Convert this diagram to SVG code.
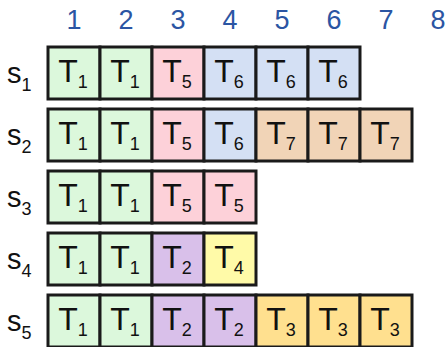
<svg xmlns="http://www.w3.org/2000/svg" width="447" height="347" viewBox="0 0 447 347">
<style>
rect{stroke:#1a1a1a;stroke-width:3}
.g{fill:#dcf8dc}.p{fill:#fdd1d9}.b{fill:#d4e0f4}.o{fill:#f1d4b7}.v{fill:#d9c0ea}.y{fill:#fffaa8}.a{fill:#ffe08f}
text{font-family:"Liberation Sans",Arial,sans-serif;fill:#111}
.t{font-size:32px;text-anchor:middle}
.sub{font-size:18px}
.hd{font-size:27px;fill:#2b55a3;text-anchor:middle}
.s{font-size:29px}
.ss{font-size:18px}
</style>
<g id="header">
<text class="hd" x="74" y="29">1</text>
<text class="hd" x="126" y="29">2</text>
<text class="hd" x="178" y="29">3</text>
<text class="hd" x="230" y="29">4</text>
<text class="hd" x="282" y="29">5</text>
<text class="hd" x="334" y="29">6</text>
<text class="hd" x="386" y="29">7</text>
<text class="hd" x="438" y="29">8</text>
</g>
<g id="labels">
<text class="s" x="7" y="83">s<tspan class="ss" dy="8">1</tspan></text>
<text class="s" x="7" y="145">s<tspan class="ss" dy="8">2</tspan></text>
<text class="s" x="7" y="207">s<tspan class="ss" dy="8">3</tspan></text>
<text class="s" x="7" y="269">s<tspan class="ss" dy="8">4</tspan></text>
<text class="s" x="7" y="331">s<tspan class="ss" dy="8">5</tspan></text>
</g>
<g id="row1">
<g id="r1c1"><rect class="g" x="48" y="47" width="52" height="52"/><text class="t" x="73" y="82">T<tspan class="sub" dy="6">1</tspan></text></g>
<g id="r1c2"><rect class="g" x="100" y="47" width="52" height="52"/><text class="t" x="125" y="82">T<tspan class="sub" dy="6">1</tspan></text></g>
<g id="r1c3"><rect class="p" x="152" y="47" width="52" height="52"/><text class="t" x="177" y="82">T<tspan class="sub" dy="6">5</tspan></text></g>
<g id="r1c4"><rect class="b" x="204" y="47" width="52" height="52"/><text class="t" x="229" y="82">T<tspan class="sub" dy="6">6</tspan></text></g>
<g id="r1c5"><rect class="b" x="256" y="47" width="52" height="52"/><text class="t" x="281" y="82">T<tspan class="sub" dy="6">6</tspan></text></g>
<g id="r1c6"><rect class="b" x="308" y="47" width="52" height="52"/><text class="t" x="333" y="82">T<tspan class="sub" dy="6">6</tspan></text></g>
</g>
<g id="row2">
<g id="r2c1"><rect class="g" x="48" y="109" width="52" height="52"/><text class="t" x="73" y="144">T<tspan class="sub" dy="6">1</tspan></text></g>
<g id="r2c2"><rect class="g" x="100" y="109" width="52" height="52"/><text class="t" x="125" y="144">T<tspan class="sub" dy="6">1</tspan></text></g>
<g id="r2c3"><rect class="p" x="152" y="109" width="52" height="52"/><text class="t" x="177" y="144">T<tspan class="sub" dy="6">5</tspan></text></g>
<g id="r2c4"><rect class="b" x="204" y="109" width="52" height="52"/><text class="t" x="229" y="144">T<tspan class="sub" dy="6">6</tspan></text></g>
<g id="r2c5"><rect class="o" x="256" y="109" width="52" height="52"/><text class="t" x="281" y="144">T<tspan class="sub" dy="6">7</tspan></text></g>
<g id="r2c6"><rect class="o" x="308" y="109" width="52" height="52"/><text class="t" x="333" y="144">T<tspan class="sub" dy="6">7</tspan></text></g>
<g id="r2c7"><rect class="o" x="360" y="109" width="52" height="52"/><text class="t" x="385" y="144">T<tspan class="sub" dy="6">7</tspan></text></g>
</g>
<g id="row3">
<g id="r3c1"><rect class="g" x="48" y="171" width="52" height="52"/><text class="t" x="73" y="206">T<tspan class="sub" dy="6">1</tspan></text></g>
<g id="r3c2"><rect class="g" x="100" y="171" width="52" height="52"/><text class="t" x="125" y="206">T<tspan class="sub" dy="6">1</tspan></text></g>
<g id="r3c3"><rect class="p" x="152" y="171" width="52" height="52"/><text class="t" x="177" y="206">T<tspan class="sub" dy="6">5</tspan></text></g>
<g id="r3c4"><rect class="p" x="204" y="171" width="52" height="52"/><text class="t" x="229" y="206">T<tspan class="sub" dy="6">5</tspan></text></g>
</g>
<g id="row4">
<g id="r4c1"><rect class="g" x="48" y="233" width="52" height="52"/><text class="t" x="73" y="268">T<tspan class="sub" dy="6">1</tspan></text></g>
<g id="r4c2"><rect class="g" x="100" y="233" width="52" height="52"/><text class="t" x="125" y="268">T<tspan class="sub" dy="6">1</tspan></text></g>
<g id="r4c3"><rect class="v" x="152" y="233" width="52" height="52"/><text class="t" x="177" y="268">T<tspan class="sub" dy="6">2</tspan></text></g>
<g id="r4c4"><rect class="y" x="204" y="233" width="52" height="52"/><text class="t" x="229" y="268">T<tspan class="sub" dy="6">4</tspan></text></g>
</g>
<g id="row5">
<g id="r5c1"><rect class="g" x="48" y="295" width="52" height="52"/><text class="t" x="73" y="330">T<tspan class="sub" dy="6">1</tspan></text></g>
<g id="r5c2"><rect class="g" x="100" y="295" width="52" height="52"/><text class="t" x="125" y="330">T<tspan class="sub" dy="6">1</tspan></text></g>
<g id="r5c3"><rect class="v" x="152" y="295" width="52" height="52"/><text class="t" x="177" y="330">T<tspan class="sub" dy="6">2</tspan></text></g>
<g id="r5c4"><rect class="v" x="204" y="295" width="52" height="52"/><text class="t" x="229" y="330">T<tspan class="sub" dy="6">2</tspan></text></g>
<g id="r5c5"><rect class="a" x="256" y="295" width="52" height="52"/><text class="t" x="281" y="330">T<tspan class="sub" dy="6">3</tspan></text></g>
<g id="r5c6"><rect class="a" x="308" y="295" width="52" height="52"/><text class="t" x="333" y="330">T<tspan class="sub" dy="6">3</tspan></text></g>
<g id="r5c7"><rect class="a" x="360" y="295" width="52" height="52"/><text class="t" x="385" y="330">T<tspan class="sub" dy="6">3</tspan></text></g>
</g>
<g id="connectors"/>
</svg>
